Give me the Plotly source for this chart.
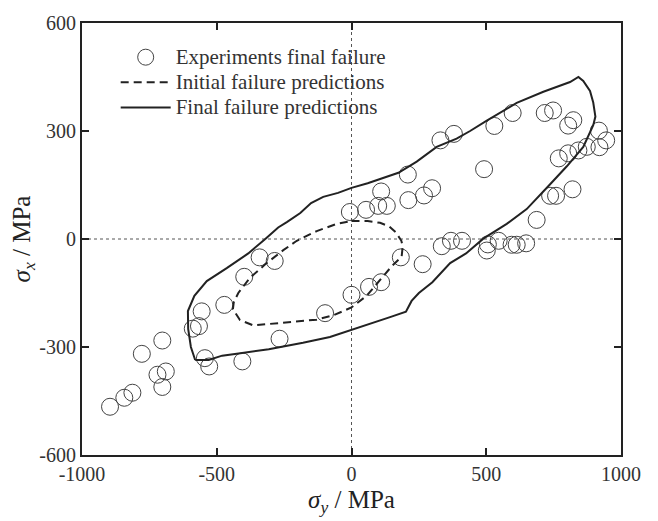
import plotly.graph_objects as go

# Experimental final failure points (sigma_y, sigma_x) in MPa
exp_sy = [-896, -843, -813, -778, -702, -720, -689, -702,
          -556, -566, -589, -472, -398, -544, -528, -405,
          -341, -285, -267, -98, 0, 65, 110, -6, 54, 99, 131, 110,
          211, 269, 299, 209, 330, 380, 530, 598, 492, 717, 748, 804,
          823, 918, 945, 920, 873, 842, 804, 769, 737, 759, 820, 687,
          335, 369, 410, 264, 183, 502, 506, 546, 594, 613, 648]
exp_sx = [-466, -441, -427, -319, -282, -377, -368, -411,
          -201, -242, -249, -183, -105, -331, -354, -340,
          -51, -61, -277, -206, -155, -133, -120, 75, 81, 92, 92, 132,
          108, 121, 141, 179, 274, 292, 314, 350, 194, 350, 357, 315,
          330, 301, 274, 255, 256, 246, 238, 224, 120, 120, 138, 53,
          -20, -5, -5, -70, -51, -32, -15, -5, -16, -16, -12]

# Initial failure prediction envelope
init_sy = [0, 60, 106, 140, 165, 185, 190, 186, 150, 106, 56, 0, -67, -129,
           -240, -364, -414, -440, -437, -420, -377, -315, -253, -203, -129, -55, 0]
init_sx = [50, 50, 45, 35, 18, -5, -20, -49, -75, -115, -158, -190, -212, -224,
           -232, -240, -225, -195, -176, -150, -108, -67, -31, -5, 22, 42, 50]

# Final failure prediction envelope
final_sy = [-580, -596, -606, -607, -583, -537, -463, -383, -320, -272, -240, -190,
            -150, -105, -50, 0, 60, 118, 174, 242, 316, 390, 440, 502, 570, 613,
            712, 774, 811, 842, 860, 885, 897, 905, 897, 860, 799, 737, 650, 576,
            489, 425, 366, 300, 250, 223, 202, 143, 60, -2, -80, -180, -258, -307,
            -419, -480, -530, -580]
final_sx = [-336, -300, -250, -200, -158, -117, -81, -40, 0, 32, 47, 72,
            100, 117, 128, 142, 155, 170, 184, 215, 256, 279, 300, 329, 359, 378,
            409, 425, 436, 450, 439, 411, 379, 340, 316, 256, 202, 152, 83, 42,
            1, -40, -67, -120, -150, -172, -202, -217, -238, -252, -272, -288, -299, -306,
            -318, -324, -336, -336]

x_ticks = [-1000, -500, 0, 500, 1000]
y_ticks = [-600, -300, 0, 300, 600]

series_names = ["Experiments final failure", "Initial failure predictions", "Final failure predictions"]

FONT = "'Liberation Serif', 'Times New Roman', Times, serif"


def legend_label(s):
    return '<span style="font-size:21px">' + s + '</span>'


fig = go.Figure()
fig.add_trace(go.Scatter(
    x=exp_sy, y=exp_sx, mode="markers", name=legend_label(series_names[0]),
    marker=dict(symbol="circle-open", size=17, color="#444444", line=dict(width=1)),
))
fig.add_trace(go.Scatter(
    x=init_sy, y=init_sx, mode="lines", name=legend_label(series_names[1]),
    line=dict(color="#222222", width=2, dash="8px,5px"),
))
fig.add_trace(go.Scatter(
    x=final_sy, y=final_sx, mode="lines", name=legend_label(series_names[2]),
    line=dict(color="#222222", width=2),
))

# dotted reference lines at zero
fig.add_shape(type="line", x0=0, x1=0, y0=-600, y1=600, xref="x", yref="y",
              line=dict(color="#555555", width=1, dash="dot"), layer="below")
fig.add_shape(type="line", x0=-1000, x1=1000, y0=0, y1=0, xref="x", yref="y",
              line=dict(color="#555555", width=1, dash="dot"), layer="below")

axis_common = dict(
    showgrid=False, zeroline=False, showline=True, linecolor="#222222", linewidth=2,
    mirror="ticks", ticks="inside", ticklen=7, tickwidth=2, tickcolor="#222222",
    tickfont=dict(family=FONT, size=20, color="#333333"),
)

fig.update_xaxes(range=[-1000, 1000], tickvals=x_ticks, ticktext=[str(v) for v in x_ticks],
                 title=dict(text="<i>σ</i><sub><i>y</i></sub> / MPa",
                            font=dict(family=FONT, size=25, color="#222222"), standoff=6),
                 **axis_common)
fig.update_yaxes(range=[-600, 600], tickvals=y_ticks, ticktext=[str(v) for v in y_ticks],
                 title=dict(text="<i>σ</i><sub><i>x</i></sub> / MPa",
                            font=dict(family=FONT, size=25, color="#222222"), standoff=2),
                 **axis_common)

fig.update_layout(
    width=658, height=521,
    margin=dict(l=82, r=37, t=16, b=66),
    paper_bgcolor="white", plot_bgcolor="white",
    font=dict(family=FONT, color="#333333"),
    legend=dict(x=0.0625, y=0.9615, xanchor="left", yanchor="top",
                bgcolor="rgba(0,0,0,0)", font=dict(family=FONT, size=17, color="#333333"),
                itemwidth=50, tracegroupgap=0),
    showlegend=True,
)

fig.write_html("out.html")
